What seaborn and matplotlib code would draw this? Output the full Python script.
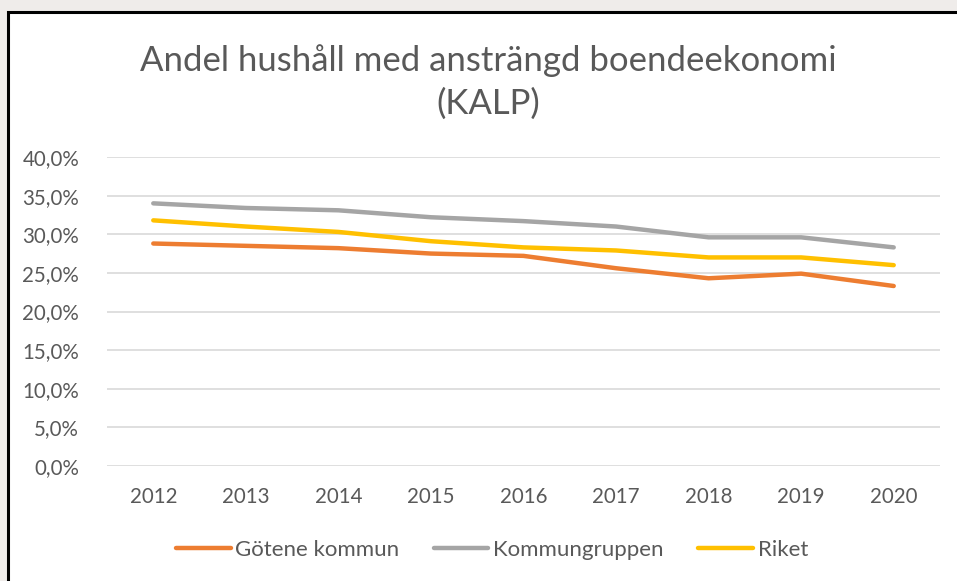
import matplotlib
matplotlib.use("Agg")
import matplotlib.pyplot as plt
from matplotlib.patches import Rectangle
from matplotlib.ticker import FuncFormatter
from matplotlib.lines import Line2D
import seaborn as sns
import pandas as pd

years = ["2012", "2013", "2014", "2015", "2016", "2017", "2018", "2019", "2020"]
gotene = [28.8, 28.5, 28.2, 27.5, 27.2, 25.6, 24.3, 24.9, 23.3]
kommungruppen = [34.0, 33.4, 33.1, 32.2, 31.7, 31.0, 29.6, 29.6, 28.3]
riket = [31.8, 31.0, 30.3, 29.1, 28.3, 27.9, 27.0, 27.0, 26.0]
series_names = ["Götene kommun", "Kommungruppen", "Riket"]
colors = ["#ED7D31", "#A5A5A5", "#FFC000"]

rows = []
for name, vals in zip(series_names, [gotene, kommungruppen, riket]):
    for i, (y, v) in enumerate(zip(years, vals)):
        rows.append({"idx": i, "År": y, "Andel": v, "Serie": name})
df = pd.DataFrame(rows)

sns.set_theme(style="white")
plt.rcParams["font.family"] = ["Lato", "DejaVu Sans"]
txt = "#595959"

fig = plt.figure(figsize=(9.57, 5.81), dpi=100)
fig.patch.set_facecolor("#EFECEA")
frame = Rectangle((8 / 957, -0.2), 1.2, (1 - 12 / 581) + 0.2, transform=fig.transFigure,
                  facecolor="white", edgecolor="black", linewidth=2.2, zorder=-10)
fig.patches.append(frame)

ax = fig.add_axes([107 / 957, 1 - 466 / 581, (940 - 107) / 957, (466 - 157) / 581])
ax.set_zorder(5)
ax.set_facecolor("none")
sns.lineplot(data=df, x="idx", y="Andel", hue="Serie", palette=colors, linewidth=3.2,
             ax=ax, legend=False, solid_capstyle="round")

ax.set_xlim(-0.5, 8.5)
ax.set_ylim(0, 40)
ax.set_yticks([0, 5, 10, 15, 20, 25, 30, 35, 40])
ax.yaxis.set_major_formatter(FuncFormatter(lambda v, p: f"{v:.1f}".replace(".", ",") + "%"))
ax.set_xticks(range(len(years)))
ax.set_xticklabels(years)
ax.grid(axis="y", color="#D9D9D9", linewidth=1.2)
ax.set_axisbelow(True)
for s in ax.spines.values():
    s.set_visible(False)
ax.tick_params(axis="both", length=0, labelsize=14.8, labelcolor=txt)
ax.tick_params(axis="x", pad=15)
ax.tick_params(axis="y", pad=20)
ax.set_xlabel("")
ax.set_ylabel("")

fig.text(488 / 957, 1 - 82 / 581, "Andel hushåll med ansträngd boendeekonomi\n(KALP)",
         ha="center", va="center", fontsize=25, color=txt, linespacing=1.4)

handles = [Line2D([0], [0], color=c, linewidth=3.2, solid_capstyle="round") for c in colors]
leg = fig.legend(handles, series_names, loc="center", bbox_to_anchor=(492 / 957, 1 - 550 / 581),
                 ncol=3, frameon=False, fontsize=16, handlelength=2.45, handletextpad=0.22,
                 columnspacing=1.55, labelcolor=txt)

fig.savefig("out.png", dpi=100, facecolor=fig.get_facecolor())
